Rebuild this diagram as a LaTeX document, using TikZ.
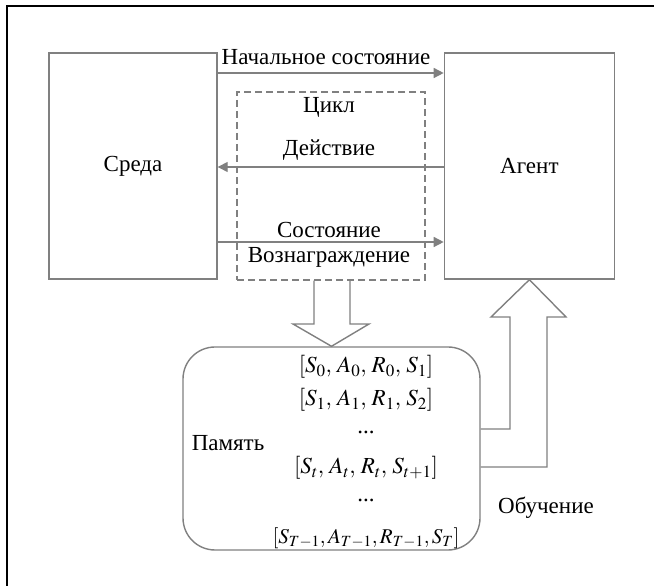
\documentclass[tikz,border=0pt]{standalone}
\usepackage{mathptmx}
\usepackage{fontspec}
\setmainfont{Liberation Serif}
\usetikzlibrary{positioning,calc,arrows.meta}

\begin{document}
\begin{tikzpicture}[x=1pt,y=1pt,
        every node/.style={font=\fontsize{23}{26}\selectfont},
        blk/.style={draw=gray, line width=1.4pt, minimum width=#1, minimum height=226pt, inner sep=0pt},
        flow/.style={draw=gray, line width=1.4pt, -{Triangle[length=10pt,width=10pt]}, gray},
        hollow/.style={draw=gray, line width=1.4pt, line join=miter},
        lbl/.style={inner sep=1pt}]
            \useasboundingbox (0,0) rectangle (654,586);
            \draw[line width=2pt] (7,0) -- (7,580) -- (654,580);
            \node[blk=168pt] (env) at (133,420) {Среда};
            \node[blk=170pt, right=226pt of env] (agent) {Агент};
            \node[draw=gray, line width=1.2pt, dash pattern=on 7pt off 4pt,
                minimum width=188pt, minimum height=188pt] (loop) at (331,400) {};
            \node[draw=gray, line width=1.4pt, rounded corners=32pt,
                minimum width=297pt, minimum height=203pt] (mem) at (331.5,137.5) {};
            \coordinate (s0) at ($(env.east)+(0,93)$);
            \coordinate (s1) at ($(agent.west)+(0,93)$);
            \coordinate (a0) at ($(agent.west)+(0,-1)$);
            \coordinate (a1) at ($(env.east)+(0,-1)$);
            \coordinate (r0) at ($(env.east)+(0,-76)$);
            \coordinate (r1) at ($(agent.west)+(0,-76)$);
            \draw[flow] (s0) -- (s1);
            \draw[flow] (a0) -- (a1);
            \draw[flow] (r0) -- (r1);
            \node[lbl] (init) at (326,529) {Начальное состояние};
            \node[lbl] (cyc) at (329,479) {Цикл};
            \node[lbl] (act) at (329,436) {Действие};
            \node[lbl] (st) at (329,356) {Состояние};
            \node[lbl] (rew) at (329,329) {Вознаграждение};
            \draw[hollow] ($(loop.south)+(-17,0)$) -- (314,262) -- (293,262) -- (mem.north)
                -- (369,262) -- (350,262) -- ($(loop.south)+(19,0)$);
            \draw[hollow] (mem.east |- 0,157) -- (510,157) -- (510,269) -- (491,269)
                -- (agent.south) -- (566,269) -- (547,269) -- (547,119) -- (mem.east |- 0,119);
            \node (memlbl) at (228,143) {Память};
            \node (learn) at (546,78) {Обучение};
            \node (t0) at (366,219) {$[S_0,\,A_0,\,R_0,\,S_1]$};
            \node (t1) at (366,186) {$[S_1,\,A_1,\,R_1,\,S_2]$};
            \node (d0) at (366,154) {...};
            \node (t2) at (366,118) {$[S_t,\,A_t,\,R_t,\,S_{t+1}]$};
            \node (d1) at (366,86) {...};
            \node[font=\fontsize{21}{24}\selectfont] (t3) at (366,48) {$[S_{T-1},A_{T-1},R_{T-1},S_T]$};
        \end{tikzpicture}
\end{document}
